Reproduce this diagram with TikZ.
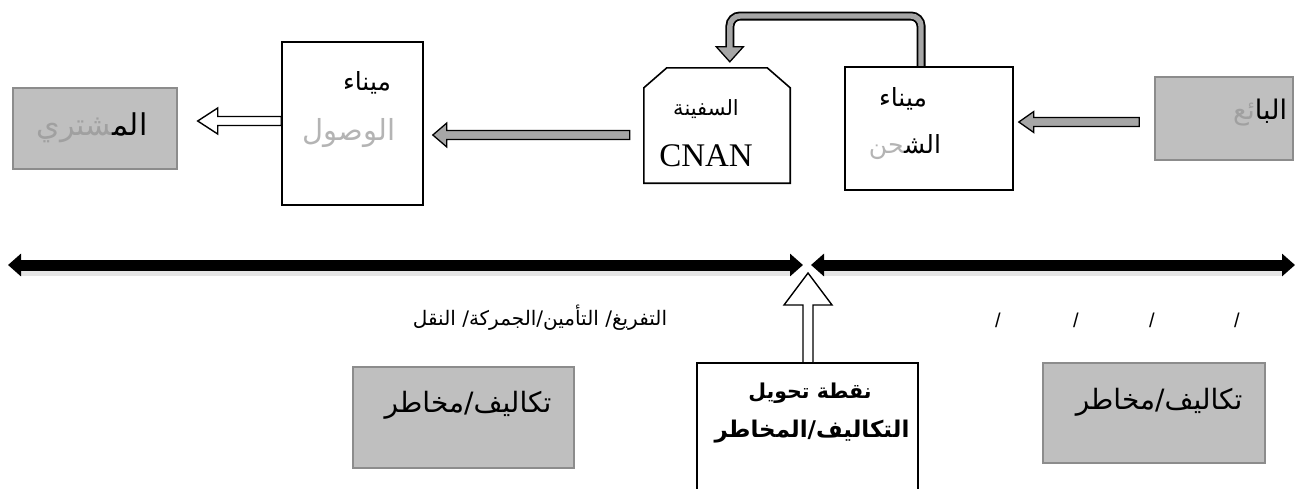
\documentclass[tikz,border=0pt]{standalone}
\usepackage{fontspec}
\usetikzlibrary{calc,arrows.meta}
\TeXXeTstate=1
\newfontfamily\arabicfont[Script=Arabic]{DejaVu Sans}
\newfontfamily\latinserif{Liberation Serif}
\newfontfamily\latinsans{Liberation Sans}
\newcommand\arfs[1]{\arabicfont\fontsize{#1pt}{#1pt}\selectfont}
\definecolor{boxgray}{HTML}{BFBFBF}
\definecolor{boxedge}{HTML}{8C8C8C}
\definecolor{arrgray}{HTML}{A6A6A6}
\definecolor{txtgray}{HTML}{A0A0A0}
\definecolor{lighttxt}{HTML}{B4B4B4}
\newcommand\leftblock[6]{%
  \draw[#6] let \p1=(#1), \p2=(#2) in
    (\x1,\y1+#3) -- (\x2+#5,\y1+#3) -- (\x2+#5,\y1+#4) -- (\x2,\y1)
    -- (\x2+#5,\y1-#4) -- (\x2+#5,\y1-#3) -- (\x1,\y1-#3) -- cycle;}
\newcommand\upblock[6]{%
  \draw[#6] let \p1=(#1), \p2=(#2) in
    (\x1-#3,\y1) -- (\x1-#3,\y2-#5) -- (\x1-#4,\y2-#5) -- (\x1,\y2)
    -- (\x1+#4,\y2-#5) -- (\x1+#3,\y2-#5) -- (\x1+#3,\y1) -- cycle;}
\tikzset{
  graybox/.style={draw=boxedge,fill=boxgray,line width=1.4pt,inner sep=0pt},
  whitebox/.style={draw=black,fill=white,line width=1.6pt,inner sep=0pt},
  plainbox/.style={draw=none,inner sep=0pt},
  lbl/.style={inner sep=0pt,anchor=center},
  dblarrow/.style={line width=11pt,black,
    {Triangle[width=22pt,length=13pt]}-{Triangle[width=22pt,length=13pt]}},
  dblshadow/.style={line width=12pt,black!10},
  grayarrow/.style={fill=arrgray,draw=black,line width=1.3pt,line join=miter},
  hollowarrow/.style={fill=white,draw=black,line width=1.4pt,line join=miter},
}
\begin{document}
\begin{tikzpicture}[x=1pt,y=-1pt]
\useasboundingbox (0,0) rectangle (1303,488);
\clip (0,0) rectangle (1303,488);

% ---------- top row boxes ----------
\node[graybox,minimum width=164pt,minimum height=81pt] (buyer) at (95,128.5) {};
\node[whitebox,minimum width=141pt,minimum height=163pt] (arr) at (352.5,123.5) {};
\node[plainbox,minimum width=146pt,minimum height=115pt] (ship) at (717,125.5) {};
\draw[line width=1.6pt,line join=miter]
  (ship.south west) -- ($(ship.north west)+(0,20)$) -- ($(ship.north west)+(23,0)$)
  -- ($(ship.north east)+(-23,0)$) -- ($(ship.north east)+(0,20)$) -- (ship.south east) -- cycle;

% loop arrow (drawn before the port box so the box covers its foot)
\coordinate (ls) at (921,67);
\coordinate (lc1) at (921,16);
\coordinate (lc2) at (730,16);
\coordinate (lhb) at ($(ship.north west)+(86,-21)$);
\coordinate (lht) at ($(lhb)+(0,15)$);
\draw[line width=9pt,black,rounded corners=10pt] (ls) -- (lc1) -- (lc2) -- (lhb);
\draw[grayarrow] ($(lhb)+(-13.5,0)$) -- ($(lhb)+(13.5,0)$) -- (lht) -- cycle;
\draw[line width=5.4pt,arrgray,rounded corners=10pt] (ls) -- (lc1) -- (lc2) -- ($(lhb)+(0,1.2)$);

\node[whitebox,minimum width=168pt,minimum height=123pt] (port) at (929,128.5) {};
\node[graybox,minimum width=138pt,minimum height=83pt] (seller) at (1224,118.5) {};

% ---------- top row texts ----------
\node[lbl] (buyert) at (92,128) {\arfs{30}{\color{txtgray}^^^^200dشتري}{\color{black}الم^^^^200d}};
\node[lbl] (arrt1) at (367,83) {\arfs{25}ميناء};
\node[lbl] (arrt2) at (349,133) {\arfs{29}\color{lighttxt}الوصول};
\node[lbl] (shipt1) at (706,109) {\arfs{21}السفينة};
\node[lbl] (shipt2) at (706,156) {\latinserif\fontsize{33pt}{33pt}\selectfont CNAN};
\node[lbl] (portt1) at (903,99) {\arfs{25}ميناء};
\node[lbl] (portt2) at (905,147) {\arfs{25}{\color{lighttxt}^^^^200dحن}{\color{black}الش^^^^200d}};
\node[lbl] (sellert) at (1260,113) {\arfs{27}{\color{txtgray}ئع}{\color{black}البا}};

% ---------- top row connectors ----------
\coordinate (w1t) at ($(arr.west)+(0,-2.5)$);
\coordinate (w1h) at ($(buyer.east)+(20,0)$);
\leftblock{w1t}{w1h}{4.5}{13}{20}{hollowarrow}
\coordinate (g2t) at ($(ship.west)+(-14,9.5)$);
\coordinate (g2h) at ($(arr.east)+(9,0)$);
\leftblock{g2t}{g2h}{4.5}{12}{14}{grayarrow}
\coordinate (g3t) at ($(seller.west)+(-15,3.5)$);
\coordinate (g3h) at ($(port.east)+(5,0)$);
\leftblock{g3t}{g3h}{4.5}{10.5}{15}{grayarrow}

% ---------- timeline ----------
\coordinate (L1) at (8,265);
\coordinate (L2) at (803,265);
\coordinate (R1) at (811,265);
\coordinate (R2) at (1295,265);
\draw[dblshadow] ($(L1)+(12,5)$) -- ($(L2)+(-12,5)$);
\draw[dblshadow] ($(R1)+(12,5)$) -- ($(R2)+(-12,5)$);
\draw[dblarrow] (L1) -- (L2);
\draw[dblarrow] (R1) -- (R2);

\node[lbl] (mid) at (540,318) {\arfs{20}\beginR التفريغ/ التأمين/الجمركة/ النقل\endR};
\node[lbl] (s1) at (998,320) {\latinsans\fontsize{20pt}{20pt}\selectfont /};
\node[lbl] (s2) at (1076,320) {\latinsans\fontsize{20pt}{20pt}\selectfont /};
\node[lbl] (s3) at (1152,320) {\latinsans\fontsize{20pt}{20pt}\selectfont /};
\node[lbl] (s4) at (1237,320) {\latinsans\fontsize{20pt}{20pt}\selectfont /};

% ---------- transfer point ----------
\node[plainbox,minimum width=221pt,minimum height=130pt] (trans) at (807.5,428) {};
\draw[line width=1.6pt,line join=miter] (trans.south west) -- (trans.north west) -- (trans.north east) -- (trans.south east);
\coordinate (ut) at ($(L2)!0.5!(R1)+(0,8)$);
\coordinate (ub) at ($(trans.north)+(0.5,0)$);
\upblock{ub}{ut}{5}{24}{32}{hollowarrow}
\node[lbl] (transt1) at (810,393) {\arfs{20.5}\bfseries\beginR نقطة تحويل\endR};
\node[lbl] (transt2) at (812,432) {\arfs{23}\bfseries\beginR التكاليف/المخاطر\endR};

% ---------- cost boxes ----------
\node[graybox,minimum width=221pt,minimum height=101pt] (cost1) at (463.5,417.5) {};
\node[lbl] (cost1t) at (468,405) {\arfs{28}\beginR تكاليف/مخاطر\endR};
\node[graybox,minimum width=222pt,minimum height=100pt] (cost2) at (1154,413) {};
\node[lbl] (cost2t) at (1159,402) {\arfs{28}\beginR تكاليف/مخاطر\endR};
\end{tikzpicture}
\end{document}
